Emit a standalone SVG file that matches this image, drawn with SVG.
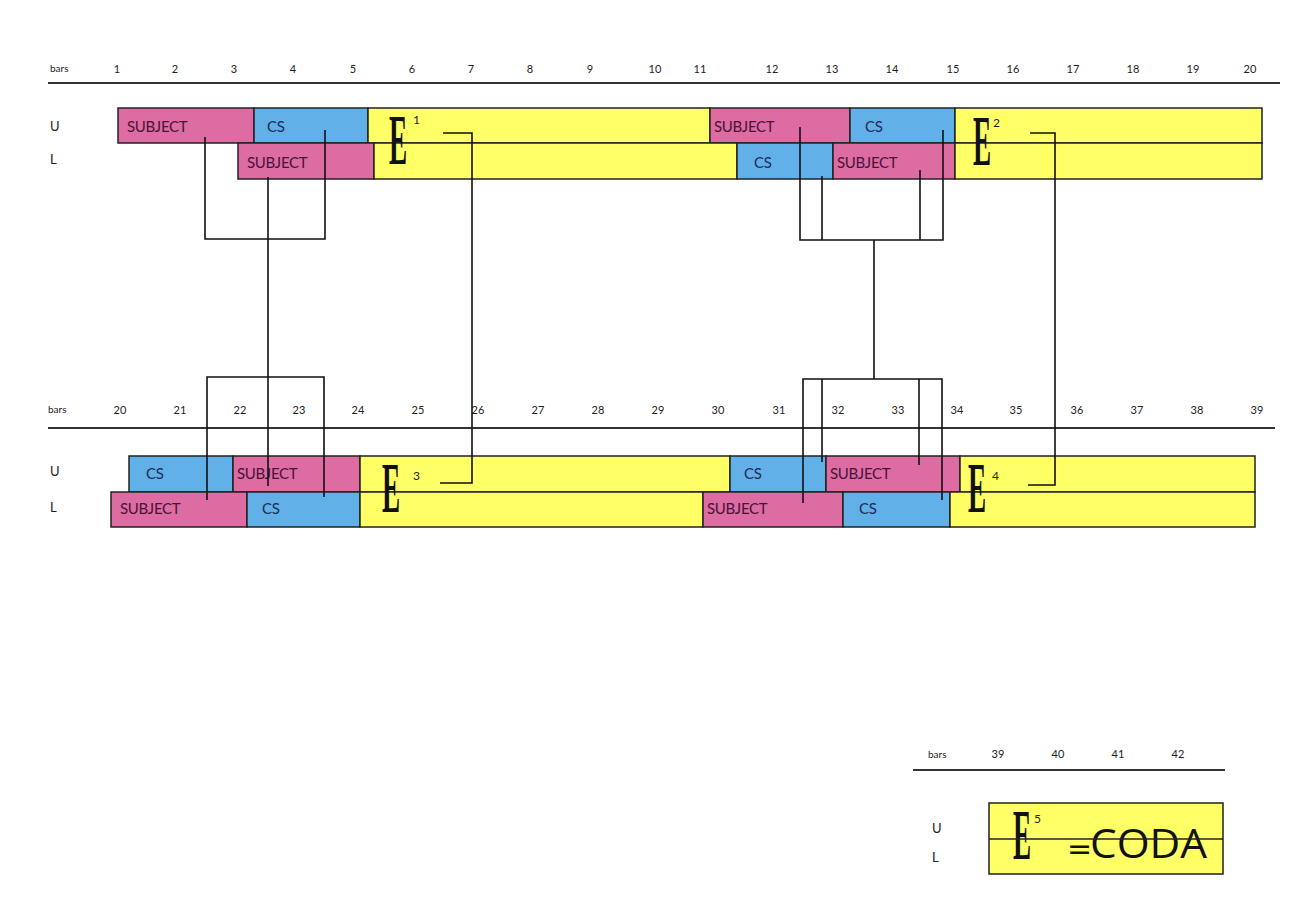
<svg xmlns="http://www.w3.org/2000/svg" width="1298" height="910" viewBox="0 0 1298 910">
<style>
.bg{fill:#ffffff}
.rule{stroke:#333;stroke-width:2;fill:none}
.num{font-family:"Lato","Open Sans",sans-serif;font-size:11px;fill:#222}
.bars{font-family:"Lato","Open Sans",sans-serif;font-size:10px;fill:#222}
.ul{font-family:"Lato","Open Sans",sans-serif;font-size:13px;fill:#222}
.box{stroke:#222;stroke-width:1.5}
.subj{fill:#DC6CA2}
.cs{fill:#62B0E8}
.ep{fill:#FFFF66}
.lbl{font-family:"Lato","Open Sans",sans-serif;font-size:15px;fill:#4a1238;letter-spacing:-0.3px}
.lblc{font-family:"Lato","Open Sans",sans-serif;font-size:15px;fill:#1c2c5a;letter-spacing:-0.3px}
.E{font-family:"Liberation Serif",serif;font-weight:bold;font-size:68px;fill:#111}
.sup{font-family:"Lato","Open Sans",sans-serif;font-size:12px;fill:#222}
.conn{stroke:#111;stroke-width:1.6;fill:none}
</style>
<rect class="bg" x="0" y="0" width="1298" height="910"/>

<g id="ruler-top">
<text class="bars" x="50" y="72">bars</text>
<g class="num" text-anchor="middle">
<text x="117" y="73">1</text><text x="175" y="73">2</text><text x="234" y="73">3</text><text x="293" y="73">4</text><text x="353" y="73">5</text><text x="412" y="73">6</text><text x="471" y="73">7</text><text x="530" y="73">8</text><text x="590" y="73">9</text><text x="655" y="73">10</text><text x="700" y="73">11</text><text x="772" y="73">12</text><text x="832" y="73">13</text><text x="892" y="73">14</text><text x="953" y="73">15</text><text x="1013" y="73">16</text><text x="1073" y="73">17</text><text x="1133" y="73">18</text><text x="1193" y="73">19</text><text x="1250" y="73">20</text>
</g>
<line class="rule" x1="48" y1="83" x2="1280" y2="83"/>
<text class="ul" x="50" y="131">U</text>
<text class="ul" x="50" y="164">L</text>
</g>

<g id="ruler-bottom">
<text class="bars" x="48" y="413">bars</text>
<g class="num" text-anchor="middle">
<text x="120" y="414">20</text><text x="180" y="414">21</text><text x="240" y="414">22</text><text x="299" y="414">23</text><text x="358" y="414">24</text><text x="418" y="414">25</text><text x="478" y="414">26</text><text x="538" y="414">27</text><text x="598" y="414">28</text><text x="658" y="414">29</text><text x="718" y="414">30</text><text x="779" y="414">31</text><text x="838" y="414">32</text><text x="898" y="414">33</text><text x="957" y="414">34</text><text x="1016" y="414">35</text><text x="1077" y="414">36</text><text x="1137" y="414">37</text><text x="1197" y="414">38</text><text x="1257" y="414">39</text>
</g>
<line class="rule" x1="48" y1="428" x2="1275" y2="428"/>
<text class="ul" x="50" y="476">U</text>
<text class="ul" x="50" y="512">L</text>
</g>

<g id="ruler-coda">
<text class="bars" x="928" y="758">bars</text>
<g class="num" text-anchor="middle">
<text x="998" y="758">39</text><text x="1058" y="758">40</text><text x="1118" y="758">41</text><text x="1178" y="758">42</text>
</g>
<line class="rule" x1="913" y1="770" x2="1225" y2="770"/>
<text class="ul" x="932" y="833">U</text>
<text class="ul" x="932" y="862">L</text>
</g>

<!-- top section -->
<g id="t-u-subject1"><rect class="box subj" x="118" y="108" width="136" height="35"/><text class="lbl" x="127" y="132">SUBJECT</text></g>
<g id="t-u-cs1"><rect class="box cs" x="254" y="108" width="114" height="35"/><text class="lblc" x="267" y="132">CS</text></g>
<g id="t-u-ep1"><rect class="box ep" x="368" y="108" width="342" height="35"/></g>
<g id="t-u-subject2"><rect class="box subj" x="710" y="108" width="140" height="35"/><text class="lbl" x="714" y="132">SUBJECT</text></g>
<g id="t-u-cs2"><rect class="box cs" x="850" y="108" width="105" height="35"/><text class="lblc" x="865" y="132">CS</text></g>
<g id="t-u-ep2"><rect class="box ep" x="955" y="108" width="307" height="35"/></g>

<g id="t-l-subject1"><rect class="box subj" x="238" y="143" width="136" height="36"/><text class="lbl" x="247" y="168">SUBJECT</text></g>
<g id="t-l-ep1"><rect class="box ep" x="374" y="143" width="363" height="36"/></g>
<g id="t-l-cs1"><rect class="box cs" x="737" y="143" width="96" height="36"/><text class="lblc" x="754" y="168">CS</text></g>
<g id="t-l-subject2"><rect class="box subj" x="833" y="143" width="122" height="36"/><text class="lbl" x="837" y="168">SUBJECT</text></g>
<g id="t-l-ep2"><rect class="box ep" x="955" y="143" width="307" height="36"/></g>

<g id="E1"><text class="E" transform="translate(389,164) scale(0.4,1.05)">E</text><text class="sup" x="413" y="124">1</text></g>
<g id="E2"><text class="E" transform="translate(973,165) scale(0.4,1.05)">E</text><text class="sup" x="993" y="127">2</text></g>

<!-- bottom section -->
<g id="b-u-cs1"><rect class="box cs" x="129" y="456" width="104" height="36"/><text class="lblc" x="146" y="479">CS</text></g>
<g id="b-u-subject1"><rect class="box subj" x="233" y="456" width="127" height="36"/><text class="lbl" x="237" y="479">SUBJECT</text></g>
<g id="b-u-ep3"><rect class="box ep" x="360" y="456" width="370" height="36"/></g>
<g id="b-u-cs2"><rect class="box cs" x="730" y="456" width="96" height="36"/><text class="lblc" x="744" y="479">CS</text></g>
<g id="b-u-subject2"><rect class="box subj" x="826" y="456" width="134" height="36"/><text class="lbl" x="830" y="479">SUBJECT</text></g>
<g id="b-u-ep4"><rect class="box ep" x="960" y="456" width="295" height="36"/></g>

<g id="b-l-subject1"><rect class="box subj" x="111" y="492" width="136" height="35"/><text class="lbl" x="120" y="514">SUBJECT</text></g>
<g id="b-l-cs1"><rect class="box cs" x="247" y="492" width="113" height="35"/><text class="lblc" x="262" y="514">CS</text></g>
<g id="b-l-ep3"><rect class="box ep" x="360" y="492" width="343" height="35"/></g>
<g id="b-l-subject2"><rect class="box subj" x="703" y="492" width="140" height="35"/><text class="lbl" x="707" y="514">SUBJECT</text></g>
<g id="b-l-cs2"><rect class="box cs" x="843" y="492" width="107" height="35"/><text class="lblc" x="859" y="514">CS</text></g>
<g id="b-l-ep4"><rect class="box ep" x="950" y="492" width="305" height="35"/></g>

<g id="E3"><text class="E" transform="translate(382,512) scale(0.4,1.05)">E</text><text class="sup" x="413" y="480">3</text></g>
<g id="E4"><text class="E" transform="translate(968,512) scale(0.4,1.05)">E</text><text class="sup" x="992" y="480">4</text></g>

<!-- coda -->
<g id="coda"><rect class="box ep" x="989" y="803" width="234" height="71"/>
<text class="E" transform="translate(1013,859) scale(0.4,1.05)">E</text>
<text class="sup" x="1034" y="823">5</text>
<text x="1067" y="859" font-family="'DejaVu Sans', sans-serif" font-size="30" fill="#111">=</text>
<text x="1090" y="858" font-family="'Open Sans', Lato, sans-serif" font-size="41" fill="#111" textLength="117" lengthAdjust="spacingAndGlyphs">CODA</text>
</g>

<g id="connectors">
<path class="conn" d="M205 137 V239 H325 V130"/>
<path class="conn" d="M268 177 V486"/>
<path class="conn" d="M443 133 H472 V483 H440"/>
<path class="conn" d="M1030 133 H1055 V485 H1028"/>
<path class="conn" d="M800 127 V240 H943 V130"/>
<path class="conn" d="M822 176 V240"/>
<path class="conn" d="M920 170 V240"/>
<path class="conn" d="M874 240 V379"/>
<path class="conn" d="M803 503 V379 H942 V500"/>
<path class="conn" d="M822 379 V462"/>
<path class="conn" d="M919 379 V465"/>
<path class="conn" d="M207 500 V377 H324 V497"/>
<line x1="989" y1="839" x2="1223" y2="839" stroke="#222" stroke-width="1.5"/>
</g>
</svg>
